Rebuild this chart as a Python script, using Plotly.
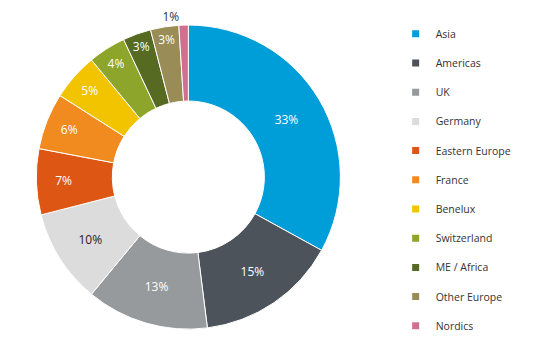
import plotly.graph_objects as go

regions = ["Asia", "Americas", "UK", "Germany", "Eastern Europe", "France",
           "Benelux", "Switzerland", "ME / Africa", "Other Europe", "Nordics"]
shares = [33, 15, 13, 10, 7, 6, 5, 4, 3, 3, 1]
colors = ["#009ED9", "#4D535A", "#969A9D", "#DCDCDC", "#DE5614", "#F18B1F",
          "#F2C400", "#8DA52A", "#566A22", "#998C56", "#D0708F"]
text_colors = ["white", "white", "white", "#222222", "white", "white",
               "white", "white", "white", "white", "#333333"]
positions = ["inside"] * 10 + ["outside"]

FONT = "Open Sans, DejaVu Sans, sans-serif"

fig = go.Figure()
fig.add_trace(go.Pie(
    labels=regions,
    values=shares,
    hole=0.5,
    sort=False,
    direction="clockwise",
    rotation=0,
    marker=dict(colors=colors, line=dict(color="white", width=1)),
    texttemplate="%{value}%",
    textposition=positions,
    insidetextorientation="horizontal",
    insidetextfont=dict(color=text_colors, size=12, family=FONT),
    outsidetextfont=dict(color="#333333", size=12, family=FONT),
    showlegend=False,
    domain=dict(x=[0.067, 0.628], y=[0.078, 0.930]),
))

for name, col in zip(regions, colors):
    fig.add_trace(go.Scatter(
        x=[None], y=[None], mode="markers", name=name, legendgroup=name,
        marker=dict(symbol="square", size=7, color=col),
        showlegend=True, hoverinfo="skip",
    ))

fig.update_layout(
    width=542, height=357,
    margin=dict(l=0, r=0, t=0, b=0),
    paper_bgcolor="white", plot_bgcolor="white",
    xaxis=dict(visible=False), yaxis=dict(visible=False),
    font=dict(family=FONT, size=11, color="#333333"),
    legend=dict(
        x=0.73, y=0.946, xanchor="left", yanchor="top",
        font=dict(size=10.5, family=FONT, color="#333333"),
        tracegroupgap=10.2, itemwidth=30,
        bgcolor="rgba(0,0,0,0)",
    ),
)

fig.write_html("out.html", config={"displayModeBar": False},
               post_script="document.body.style.margin='0';")
